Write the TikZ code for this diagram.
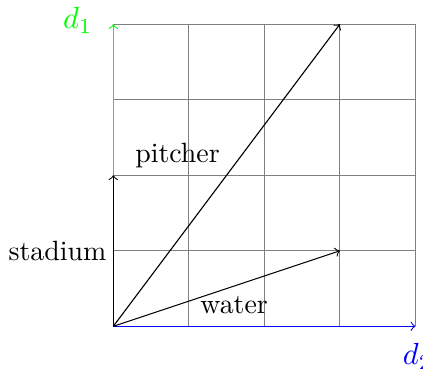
\documentclass[tikz,border=0pt]{standalone}
\begin{document}
\begin{tikzpicture}[x=1cm,y=1cm,
  vec/.style={->,black},
  lbl/.style={inner sep=1pt}]
\useasboundingbox (-1.5,-0.6) rectangle (4.1,4.32);
\draw[gray,step=1cm] (0,0) grid (4,4);
\coordinate (O) at (0,0);
\coordinate (D1) at (0,4);
\coordinate (D2) at (4,0);
\coordinate (P) at (3,4);
\coordinate (W) at (3,1);
\coordinate (S) at (0,2);
\draw[->,green] (O) -- (D1);
\draw[->,blue] (O) -- (D2);
\draw[vec] (O) -- (P);
\draw[vec] (O) -- (W);
\draw[vec] (O) -- (S);
\node[lbl,green,scale=1.15] (d1) at (-0.47,4.05) {$d_1$};
\node[lbl,blue,scale=1.15] (d2) at (4.03,-0.4) {$d_2$};
\node[lbl,scale=1.05] (pl) at (0.85,2.26) {pitcher};
\node[lbl,scale=1.05] (sl) at (-0.74,1.0) {stadium};
\node[lbl,scale=1.05] (wl) at (1.6,0.28) {water};
\end{tikzpicture}
\end{document}
